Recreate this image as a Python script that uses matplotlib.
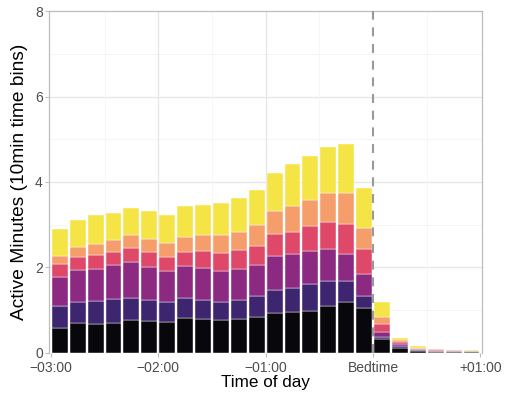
import numpy as np
import matplotlib
matplotlib.use("Agg")
import matplotlib.pyplot as plt

# 10 minute bins, minutes relative to bedtime (left edge of each bin)
bin_start = [-180, -170, -160, -150, -140, -130, -120, -110, -100, -90, -80, -70,
             -60, -50, -40, -30, -20, -10, 0, 10, 20, 30, 40, 50]

# stacked layers, bottom to top
layer_black = [0.59, 0.70, 0.68, 0.70, 0.77, 0.74, 0.72, 0.81, 0.79, 0.77, 0.79, 0.83,
               0.94, 0.95, 0.99, 1.10, 1.18, 1.04, 0.33, 0.12, 0.05, 0.03, 0.03, 0.03]
layer_indigo = [0.51, 0.49, 0.54, 0.56, 0.51, 0.50, 0.46, 0.47, 0.45, 0.43, 0.45, 0.49,
                0.54, 0.57, 0.63, 0.57, 0.49, 0.28, 0.04, 0.04, 0.01, 0.01, 0.005, 0.005]
layer_purple = [0.68, 0.74, 0.74, 0.79, 0.85, 0.78, 0.73, 0.75, 0.75, 0.71, 0.72, 0.73,
                0.78, 0.80, 0.76, 0.76, 0.65, 0.52, 0.11, 0.04, 0.02, 0.01, 0.005, 0.005]
layer_red = [0.29, 0.32, 0.32, 0.30, 0.33, 0.33, 0.33, 0.34, 0.40, 0.42, 0.45, 0.46,
             0.52, 0.52, 0.59, 0.63, 0.70, 0.58, 0.19, 0.05, 0.02, 0.01, 0.01, 0.005]
layer_orange = [0.19, 0.22, 0.27, 0.30, 0.29, 0.31, 0.33, 0.35, 0.36, 0.42, 0.43, 0.48,
                0.55, 0.59, 0.61, 0.69, 0.73, 0.51, 0.18, 0.04, 0.02, 0.02, 0.01, 0.005]
layer_yellow = [0.63, 0.65, 0.67, 0.63, 0.65, 0.66, 0.65, 0.71, 0.72, 0.76, 0.78, 0.82,
                0.89, 1.00, 1.03, 1.08, 1.13, 0.92, 0.34, 0.06, 0.04, 0.02, 0.01, 0.01]

layers = [layer_black, layer_indigo, layer_purple, layer_red, layer_orange, layer_yellow]
colors = ["#08080c", "#3d2570", "#8c2a82", "#df4869", "#f59e6c", "#f5e446"]

tick_pos = [-180, -120, -60, 0, 60]
tick_labels = ["\u221203:00", "\u221202:00", "\u221201:00", "Bedtime", "+01:00"]

plt.rcParams["font.family"] = ["Liberation Sans", "DejaVu Sans"]

fig = plt.figure(figsize=(5.06, 3.96), dpi=100)
ax = fig.add_axes([0.097, 0.109, 0.856, 0.863])

# light grid like ggplot theme_light
for y in [1, 3, 5, 7]:
    ax.axhline(y, color="#f3f3f3", lw=0.6, zorder=0)
for y in [2, 4, 6]:
    ax.axhline(y, color="#e6e6e6", lw=0.9, zorder=0)
for x in [-150, -90, -30, 30]:
    ax.axvline(x, color="#f5f5f5", lw=0.6, zorder=0)
for x in [-120, -60]:
    ax.axvline(x, color="#e6e6e6", lw=0.9, zorder=0)

bottom = np.zeros(len(bin_start))
left = np.array(bin_start) + 0.55
for vals, c in zip(layers, colors):
    ax.bar(left, vals, width=8.9, bottom=bottom, align="edge", color=c,
           edgecolor="white", linewidth=0.3, zorder=2)
    bottom += np.array(vals)

ax.axvline(0, color="#999999", lw=1.5, ls=(0, (4.3, 3.7)), zorder=3)

ax.set_xlim(-181, 61)
ax.set_ylim(0, 8)
ax.set_xticks(tick_pos)
ax.set_xticklabels(tick_labels)
ax.set_yticks([0, 2, 4, 6, 8])

for s in ax.spines.values():
    s.set_color("#bdbdbd")
    s.set_linewidth(0.9)
ax.spines["bottom"].set_visible(False)

ax.tick_params(axis="both", colors="#bdbdbd", labelcolor="#4d4d4d", labelsize=10,
               length=3, width=0.8, pad=1.5)
ax.tick_params(axis="x", pad=2.8)
ax.set_xlabel("Time of day", fontsize=12.3, labelpad=0)
ax.set_ylabel("Active Minutes (10min time bins)", fontsize=13.8, labelpad=5)

fig.savefig("out.png", dpi=100)
